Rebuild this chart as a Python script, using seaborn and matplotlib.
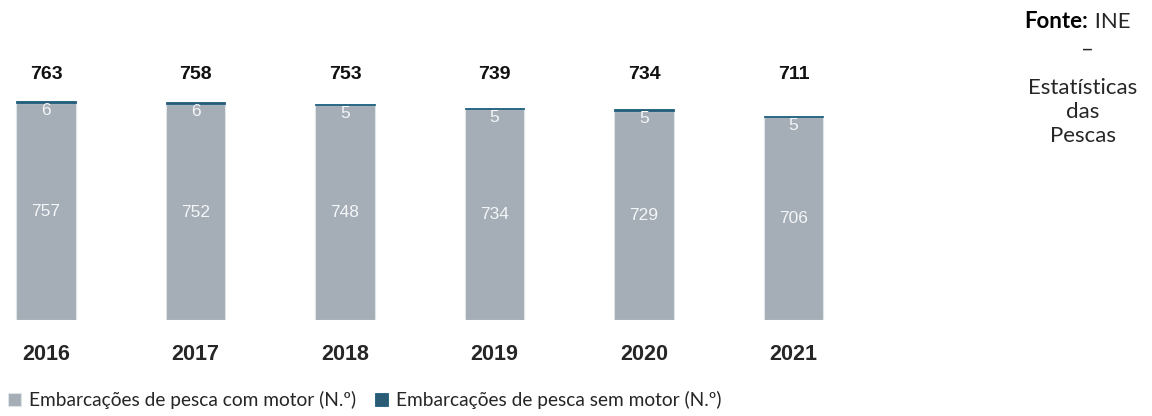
import matplotlib
matplotlib.use("Agg")
import matplotlib.pyplot as plt
import matplotlib.transforms as mtransforms
import seaborn as sns

# data
anos = ["2016", "2017", "2018", "2019", "2020", "2021"]
com_motor = [757, 752, 748, 734, 729, 706]
sem_motor = [6, 6, 5, 5, 5, 5]
totais = [c + s for c, s in zip(com_motor, sem_motor)]

cor_com = "#a2aeb9"
cor_sem = "#1c5f80"

sns.set_style("white")
plt.rcParams["font.family"] = ["Liberation Sans", "DejaVu Sans"]

fig = plt.figure(figsize=(11.52, 4.16), dpi=100)
ax = fig.add_axes([0, 96 / 416, 840 / 1152, 229.7 / 416])

sns.barplot(x=anos, y=com_motor, color=cor_com, width=0.4, edgecolor="#dfe4e8",
            linewidth=0.8, label="Embarcações de pesca com motor (N.º)", ax=ax)
sns.barplot(x=anos, y=sem_motor, bottom=com_motor, color=cor_sem, width=0.4,
            edgecolor=cor_sem, linewidth=0.6,
            label="Embarcações de pesca sem motor (N.º)", ax=ax)

ax.set_xlim(-0.308, 5.311)
ax.set_ylim(0, 800)
ax.set_yticks([])
ax.set_xlabel("")
ax.set_ylabel("")
sns.despine(ax=ax, left=True, bottom=True)
ax.tick_params(axis="x", length=0, pad=17)
for lab in ax.get_xticklabels():
    lab.set_fontsize(15.5)
    lab.set_fontweight("bold")

# value labels inside bars
for i, (c, s, t) in enumerate(zip(com_motor, sem_motor, totais)):
    ax.text(i, c / 2, str(c), ha="center", va="center", color="#f4f6f8",
            fontsize=12.5, fontstretch="condensed")
    ax.annotate(str(s), (i, t), xytext=(0, -1.5), textcoords="offset points",
                ha="center", va="top", color="#f4f6f8", fontsize=12.5,
                fontstretch="condensed")

# totals above bars
trans = mtransforms.blended_transform_factory(ax.transData, ax.transAxes)
for i, t in enumerate(totais):
    ax.text(i, 1.07, str(t), transform=trans, ha="center", va="center",
            fontsize=14, fontweight="bold", color="#111111")

if ax.legend_:
    ax.legend_.remove()
handles, labels = ax.get_legend_handles_labels()
fig.legend(handles, labels, loc="center left", bbox_to_anchor=(0.0, 16 / 416),
           ncol=2, frameon=False, handlelength=0.7, handleheight=0.7,
           handletextpad=0.4, columnspacing=1.0, borderaxespad=0,
           prop={"family": ["Lato", "DejaVu Sans"], "size": 13.8})

# source note
fonte = dict(fontsize=16, family=["Lato", "DejaVu Sans"], color="#262626")
fig.text(1088 / 1152, 1 - 22 / 416, "Fonte:", ha="right", va="center",
         fontweight="bold", **{**fonte, "color": "#000000"})
fig.text(1089 / 1152, 1 - 22 / 416, " INE", ha="left", va="center", **fonte)
fig.text(1087 / 1152, 1 - 50 / 416, "–", ha="center", va="center", **fonte)
fig.text(1083 / 1152, 1 - 112 / 416, "Estatísticas\ndas\nPescas",
         ha="center", va="center", multialignment="center", linespacing=1.27,
         **fonte)

fig.savefig("out.png", dpi=100)
